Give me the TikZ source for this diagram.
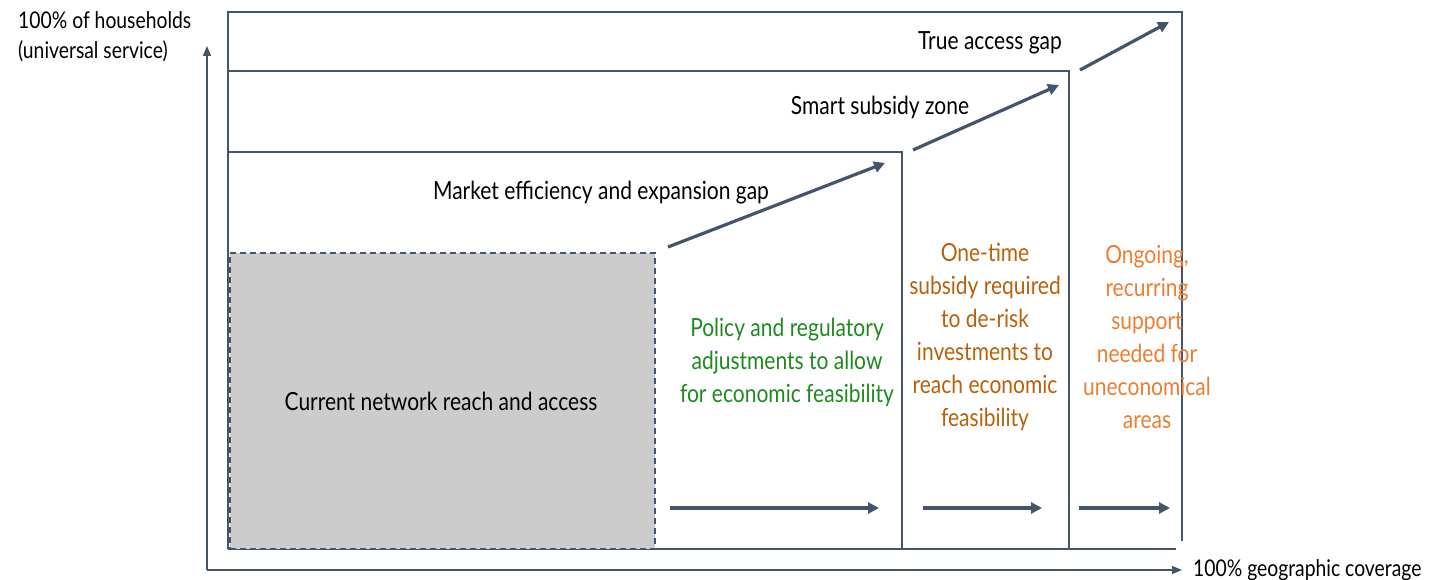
\documentclass[tikz,border=0pt]{standalone}
\usepackage{fontspec}
\setmainfont{Lato}[FakeStretch=0.84]
\usetikzlibrary{arrows.meta}
\definecolor{slate}{HTML}{44546A}
\definecolor{grayfill}{HTML}{CCCCCC}
\definecolor{tgreen}{HTML}{1E8A1E}
\definecolor{tbrown}{HTML}{B8600A}
\definecolor{torange}{HTML}{ED7D31}
\tikzset{
  frame/.style={draw=slate, line width=1.6pt},
  bigarrow/.style={draw=slate, line width=3.2pt, -{Triangle[length=11pt,width=11pt]}},
  axisarrow/.style={draw=slate, line width=1.6pt, -{Triangle[length=10pt,width=8pt]}},
  lbl/.style={font=\fontsize{25}{33}\selectfont, inner sep=0pt, align=center},
  axlbl/.style={font=\fontsize{23}{30}\selectfont, inner sep=0pt},
}
\begin{document}
\begin{tikzpicture}[x=1pt,y=-1pt]
\useasboundingbox (0,0) rectangle (1439,580);
% frames
\draw[frame] (228,549) -- (228,12) -- (1182,12) -- (1182,541);
\draw[frame] (228,71) -- (1069,71) -- (1069,549);
\draw[frame] (228,152) -- (902,152) -- (902,549);
\draw[frame] (228,549) -- (1176,549);
% current reach box
\node[draw=slate, fill=grayfill, dashed, dash pattern=on 6pt off 4pt, line width=1.6pt, minimum width=425pt, minimum height=296pt, inner sep=0pt] (cur) at (442.5,401) {};
\node[lbl] (curlbl) at (441,401) {Current network reach and access};
% axes
\coordinate (origin) at (207,570);
\coordinate (ytip) at (207,46);
\coordinate (xtip) at (1182,570);
\draw[axisarrow] (origin) -- (ytip);
\draw[axisarrow] (origin) -- (xtip);
\node[axlbl, anchor=west, align=left] (ylbl) at (18,37) {100\% of households\\(universal service)};
\node[axlbl, anchor=west] (xlbl) at (1193,570) {100\% geographic coverage};
% diagonal arrows
\coordinate (d1s) at (668,247); \coordinate (d1e) at (885,163);
\coordinate (d2s) at (913,150); \coordinate (d2e) at (1059,85);
\coordinate (d3s) at (1080,70); \coordinate (d3e) at (1169,22);
\draw[bigarrow] (d1s) -- (d1e);
\draw[bigarrow] (d2s) -- (d2e);
\draw[bigarrow] (d3s) -- (d3e);
% horizontal arrows
\coordinate (h1s) at (670,508); \coordinate (h1e) at (879,508);
\coordinate (h2s) at (923,508); \coordinate (h2e) at (1042,508);
\coordinate (h3s) at (1079,508); \coordinate (h3e) at (1170,508);
\draw[bigarrow] (h1s) -- (h1e);
\draw[bigarrow] (h2s) -- (h2e);
\draw[bigarrow] (h3s) -- (h3e);
% zone labels
\node[lbl] (mkt) at (601,193) {Market efficiency and expansion gap};
\node[lbl] (smart) at (880,107) {Smart subsidy zone};
\node[lbl] (true) at (990,43) {True access gap};
\node[lbl, text=tgreen] (policy) at (787,362) {Policy and regulatory\\adjustments to allow\\for economic feasibility};
\node[lbl, text=tbrown] (onetime) at (985,337) {One-time\\subsidy required\\to de-risk\\investments to\\reach economic\\feasibility};
\node[lbl, text=torange] (ongoing) at (1147,337) {Ongoing,\\recurring\\support\\needed for\\uneconomical\\areas};
\end{tikzpicture}
\end{document}
